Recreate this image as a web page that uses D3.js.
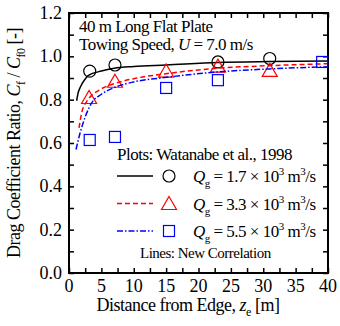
<!DOCTYPE html>
<html>
<head>
<meta charset="utf-8">
<script src="https://cdn.jsdelivr.net/npm/d3@7"></script>
<style>
  html, body { margin: 0; padding: 0; background: #fff; }
  svg { display: block; font-family: "Liberation Serif", "Times New Roman", serif; }
</style>
</head>
<body>
<div id="chart"></div>
<script>
// Données
const xTicks = [0, 5, 10, 15, 20, 25, 30, 35, 40];
const yTicks = [0.0, 0.2, 0.4, 0.6, 0.8, 1.0, 1.2];

// Mesures (Watanabe et al., 1998)
const pts17 = [[3.2, 0.932], [7.1, 0.96], [23, 0.974], [31, 0.99]];
const pts33 = [[3.1, 0.81], [7.1, 0.885], [15, 0.932], [23, 0.955], [31, 0.935]];
const pts55 = [[3.2, 0.614], [7.1, 0.628], [15, 0.854], [23, 0.89], [39.1, 0.974]];

// Corrélations (lignes)
const line17 = [[1.18, 0.795], [1.4, 0.83], [1.7, 0.855], [2.5, 0.895], [3, 0.912], [5, 0.932], [7, 0.945], [10, 0.953], [15, 0.96], [23, 0.972], [31, 0.976], [40, 0.978]];
const line33 = [[1.55, 0.67], [1.96, 0.74], [2.7, 0.79], [3, 0.803], [5, 0.85], [7, 0.874], [10, 0.897], [15, 0.92], [23, 0.945], [31, 0.957], [40, 0.966]];
const line55 = [[1.08, 0.57], [1.7, 0.645], [2.5, 0.72], [3.5, 0.785], [5, 0.825], [7, 0.856], [10, 0.882], [15, 0.903], [23, 0.928], [31, 0.942], [40, 0.952]];

const W = 340, H = 326;
const m = { left: 69, right: 12, top: 13, bottom: 53 };
const width = W - m.left - m.right;
const height = H - m.top - m.bottom;

const svg = d3.select("#chart").append("svg")
  .attr("width", W).attr("height", H);

const x = d3.scaleLinear().domain([0, 40]).range([m.left, m.left + width]);
const y = d3.scaleLinear().domain([0, 1.2]).range([m.top + height, m.top]);

// Ticks intérieurs sur les 4 côtés
const xMinor = d3.range(0, 40.01, 2.5);
const yMinor = d3.range(0, 1.201, 0.1);
const tk = 5;

svg.append("g").attr("transform", `translate(0,${m.top + height})`)
  .call(d3.axisBottom(x).tickValues(xMinor).tickSize(-tk).tickFormat(""))
  .call(a => a.select(".domain").remove());
svg.append("g").attr("transform", `translate(0,${m.top})`)
  .call(d3.axisTop(x).tickValues(xMinor).tickSize(-tk).tickFormat(""))
  .call(a => a.select(".domain").remove());
svg.append("g").attr("transform", `translate(${m.left},0)`)
  .call(d3.axisLeft(y).tickValues(yMinor).tickSize(-tk).tickFormat(""))
  .call(a => a.select(".domain").remove());
svg.append("g").attr("transform", `translate(${m.left + width},0)`)
  .call(d3.axisRight(y).tickValues(yMinor).tickSize(-tk).tickFormat(""))
  .call(a => a.select(".domain").remove());
svg.selectAll(".tick line").attr("stroke", "#000").attr("stroke-width", 1.5);
svg.selectAll(".tick text").remove();

// Cadre
svg.append("rect").attr("x", m.left).attr("y", m.top).attr("width", width).attr("height", height)
  .attr("fill", "none").attr("stroke", "#000").attr("stroke-width", 2);

// Courbes
const line = d3.line().x(d => x(d[0])).y(d => y(d[1])).curve(d3.curveMonotoneX);
const series = [
  { pts: pts17, ln: line17, col: "#000", dash: null, sym: "circle" },
  { pts: pts33, ln: line33, col: "#f00", dash: "5,3", sym: "tri" },
  { pts: pts55, ln: line55, col: "#00f", dash: "6,2,1.5,2", sym: "sq" }
];

const drawSym = (sel, s, cx, cy) => {
  if (s.sym === "circle") {
    sel.append("circle").attr("cx", cx).attr("cy", cy).attr("r", 6)
      .attr("fill", "none").attr("stroke", s.col).attr("stroke-width", 1.2);
  } else if (s.sym === "tri") {
    sel.append("path").attr("d", `M${cx},${cy - 7}L${cx + 7.5},${cy + 6}L${cx - 7.5},${cy + 6}Z`)
      .attr("fill", "none").attr("stroke", s.col).attr("stroke-width", 1.2);
  } else {
    sel.append("rect").attr("x", cx - 5.5).attr("y", cy - 5.5).attr("width", 11).attr("height", 11)
      .attr("fill", "none").attr("stroke", s.col).attr("stroke-width", 1.2);
  }
};

series.forEach(s => {
  svg.append("path").datum(s.ln).attr("d", line)
    .attr("fill", "none").attr("stroke", s.col).attr("stroke-width", 1.5)
    .attr("stroke-dasharray", s.dash);
  s.pts.forEach(p => drawSym(svg, s, x(p[0]), y(p[1])));
});

// Titraille dans le graphique
svg.append("text").attr("x", 79).attr("y", 32).attr("font-size", 17).attr("letter-spacing", -0.5)
  .text("40 m Long Flat Plate");
const t2 = svg.append("text").attr("x", 79).attr("y", 50).attr("font-size", 17).attr("letter-spacing", -0.5);
t2.append("tspan").text("Towing Speed, ");
t2.append("tspan").attr("font-style", "italic").text("U");
t2.append("tspan").text(" = 7.0 m/s");

// Légende
svg.append("text").attr("x", 117).attr("y", 160).attr("font-size", 17).attr("letter-spacing", -0.5)
  .text("Plots: Watanabe et al., 1998");
const labels = ["1.7", "3.3", "5.5"];
series.forEach((s, i) => {
  const yy = 176 + i * 27.5;
  svg.append("line").attr("x1", 117).attr("x2", 153).attr("y1", yy).attr("y2", yy)
    .attr("stroke", s.col).attr("stroke-width", 1.5).attr("stroke-dasharray", s.dash);
  drawSym(svg, s, 169, yy);
  const t = svg.append("text").attr("x", 193).attr("y", yy + 6).attr("font-size", 17).attr("letter-spacing", -0.5);
  t.append("tspan").attr("font-style", "italic").text("Q");
  t.append("tspan").attr("font-size", 11).attr("dy", 5).text("g");
  t.append("tspan").attr("dy", -5).text(` = ${labels[i]} × 10`);
  t.append("tspan").attr("font-size", 11).attr("dy", -7).text("3");
  t.append("tspan").attr("dy", 7).text(" m");
  t.append("tspan").attr("font-size", 11).attr("dy", -7).text("3");
  t.append("tspan").attr("dy", 7).text("/s");
});
svg.append("text").attr("x", 140).attr("y", 258).attr("font-size", 15).attr("letter-spacing", -0.5)
  .text("Lines: New Correlation");

// Titre axe X
const xl = svg.append("text").attr("x", 188).attr("y", 311).attr("text-anchor", "middle")
  .attr("font-size", 18).attr("letter-spacing", -0.5);
xl.append("tspan").text("Distance from Edge,  ");
xl.append("tspan").attr("font-style", "italic").text("z");
xl.append("tspan").attr("font-size", 12).attr("dy", 5).text("e");
xl.append("tspan").attr("dy", -5).text("   [m]");

// Titre axe Y
const yl = svg.append("text").attr("transform", "translate(20,143) rotate(-90)").attr("text-anchor", "middle")
  .attr("font-size", 18).attr("letter-spacing", -0.5);
yl.append("tspan").text("Drag Coefficient Ratio,  ");
yl.append("tspan").attr("font-style", "italic").text("C");
yl.append("tspan").attr("font-size", 12).attr("dy", 5).text("f");
yl.append("tspan").attr("dy", -5).text(" / ");
yl.append("tspan").attr("font-style", "italic").text("C");
yl.append("tspan").attr("font-size", 12).attr("dy", 5).text("f0");
yl.append("tspan").attr("dy", -5).text("   [-]");

// Labels des ticks (au premier plan)
xTicks.forEach(d => {
  svg.append("text")
    .attr("x", x(d)).attr("y", m.top + height + 19)
    .attr("text-anchor", "middle").attr("font-size", 18).attr("fill", "#000")
    .text(String(d));
});
yTicks.forEach(d => {
  svg.append("text")
    .attr("x", m.left - 7).attr("y", y(d) + 6)
    .attr("text-anchor", "end").attr("font-size", 18).attr("fill", "#000")
    .text(d.toFixed(1));
});
</script>
</body>
</html>
